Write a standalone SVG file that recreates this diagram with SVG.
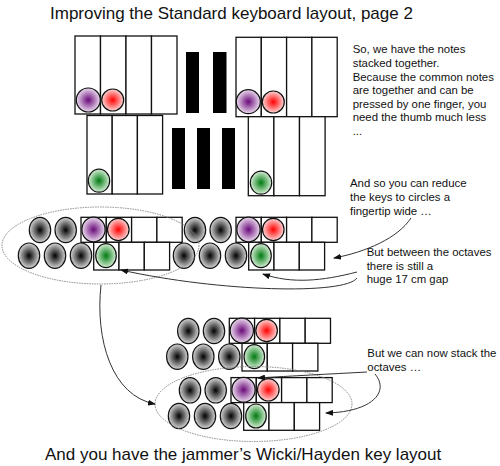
<svg xmlns="http://www.w3.org/2000/svg" width="500" height="466" viewBox="0 0 500 466">
<style>
text{font-family:"Liberation Sans",Arial,sans-serif;fill:#111}
.t{font-size:11.4px}
.h{font-size:17px}
.k{fill:#fff;stroke:#111;stroke-width:1.3}
.c{stroke:#111;stroke-width:1.2}
.gr{fill:url(#gGray)}
.pu{fill:url(#gPurple)}
.re{fill:url(#gRed)}
.gn{fill:url(#gGreen)}
.bk{fill:#000}
.con{fill:none;stroke:#333;stroke-width:1}
.ell{fill:none;stroke:#888;stroke-width:1;stroke-dasharray:1.5 1}
</style>
<defs>
<radialGradient id="gGray"><stop offset="0" stop-color="#000"/><stop offset="1" stop-color="#d8d8d8"/></radialGradient>
<radialGradient id="gPurple"><stop offset="0" stop-color="#6a0a7a"/><stop offset="1" stop-color="#ecdcef"/></radialGradient>
<radialGradient id="gRed"><stop offset="0" stop-color="#ff0000"/><stop offset="1" stop-color="#ffd6d6"/></radialGradient>
<radialGradient id="gGreen"><stop offset="0" stop-color="#007a10"/><stop offset="1" stop-color="#d6eed6"/></radialGradient>
<marker id="arr" markerUnits="userSpaceOnUse" markerWidth="8" markerHeight="6" refX="7" refY="3" orient="auto"><path d="M0,0 L8,3 L0,6 z" fill="#111"/></marker>
<g id="octave">
<rect class="k" x="81" y="217.3" width="25.3" height="25"/>
<rect class="k" x="106.3" y="217.3" width="25.3" height="25"/>
<rect class="k" x="131.6" y="217.3" width="25.3" height="25"/>
<rect class="k" x="156.9" y="217.3" width="25.3" height="25"/>
<rect class="k" x="93.7" y="242.3" width="25.3" height="27.7"/>
<rect class="k" x="119" y="242.3" width="25.3" height="27.7"/>
<rect class="k" x="144.3" y="242.3" width="25.3" height="27.7"/>
<ellipse class="c gr" cx="40" cy="230" rx="10.7" ry="12.7"/>
<ellipse class="c gr" cx="65.7" cy="230" rx="10.7" ry="12.7"/>
<ellipse class="c pu" cx="93.5" cy="229.5" rx="11.6" ry="12.4"/>
<ellipse class="c re" cx="118.3" cy="229.5" rx="10.8" ry="11.2"/>
<ellipse class="c gr" cx="29" cy="255.7" rx="10.7" ry="12.7"/>
<ellipse class="c gr" cx="55" cy="255.7" rx="10.7" ry="12.7"/>
<ellipse class="c gr" cx="81" cy="255.7" rx="10.7" ry="12.7"/>
<ellipse class="c gn" cx="106" cy="255.7" rx="10.3" ry="12"/>
</g>
</defs>
<rect width="500" height="466" fill="#fff"/>

<g id="title"><text class="h" x="50" y="18.5">Improving the Standard keyboard layout, page 2</text></g>

<g id="upper-left-keys">
<rect class="k" x="75" y="36" width="25.5" height="78"/>
<rect class="k" x="100.5" y="36" width="25.5" height="78"/>
<rect class="k" x="126" y="36" width="25.5" height="78"/>
<rect class="k" x="151.5" y="36" width="25.5" height="78"/>
<circle class="c pu" cx="88.3" cy="100" r="12"/>
<circle class="c re" cx="112.7" cy="100" r="11"/>
</g>
<g id="lower-left-keys">
<rect class="k" x="87" y="115.5" width="25.2" height="78.5"/>
<rect class="k" x="112.2" y="115.5" width="25.2" height="78.5"/>
<rect class="k" x="137.4" y="115.5" width="25.2" height="78.5"/>
<ellipse class="c gn" cx="99" cy="180.7" rx="10.7" ry="11.5"/>
</g>
<g id="black-keys">
<rect class="bk" x="186" y="52" width="13" height="61"/>
<rect class="bk" x="213" y="52" width="13.5" height="61"/>
<rect class="bk" x="172" y="128" width="13" height="61"/>
<rect class="bk" x="197" y="128" width="13" height="61"/>
<rect class="bk" x="222" y="128" width="13" height="61"/>
</g>
<g id="upper-right-keys">
<rect class="k" x="236" y="37.3" width="25.3" height="79.4"/>
<rect class="k" x="261.3" y="37.3" width="25.3" height="79.4"/>
<rect class="k" x="286.6" y="37.3" width="25.3" height="79.4"/>
<rect class="k" x="311.9" y="37.3" width="25.3" height="79.4"/>
<circle class="c pu" cx="248.3" cy="101.7" r="12"/>
<circle class="c re" cx="273.3" cy="102" r="11"/>
</g>
<g id="lower-right-keys">
<rect class="k" x="248.3" y="116.7" width="25.6" height="79"/>
<rect class="k" x="273.9" y="116.7" width="25.6" height="79"/>
<rect class="k" x="299.5" y="116.7" width="25.6" height="79"/>
<ellipse class="c gn" cx="261" cy="182.7" rx="10.7" ry="11.5"/>
</g>

<g id="note-stacked">
<text class="t" x="352.7" y="53.3">So, we have the notes</text>
<text class="t" x="352.7" y="66.9">stacked together.</text>
<text class="t" x="352.7" y="80.5">Because the common notes</text>
<text class="t" x="352.7" y="94.1">are together and can be</text>
<text class="t" x="352.7" y="107.7">pressed by one finger, you</text>
<text class="t" x="352.7" y="121.3">need the thumb much less</text>
<text class="t" x="352.7" y="134.9">...</text>
</g>
<g id="note-circles">
<text class="t" x="350" y="187">And so you can reduce</text>
<text class="t" x="350" y="201">the keys to circles a</text>
<text class="t" x="350" y="215">fingertip wide …</text>
</g>
<g id="note-gap">
<text class="t" x="366.7" y="255.7">But between the octaves</text>
<text class="t" x="366.7" y="269.5">there is still a</text>
<text class="t" x="366.7" y="283.3">huge 17 cm gap</text>
</g>
<g id="note-stack">
<text class="t" x="367.3" y="356.7">But we can now stack the</text>
<text class="t" x="367.3" y="370.7">octaves …</text>
</g>

<g id="octave-1"><use href="#octave"/></g>
<g id="octave-2"><use href="#octave" transform="translate(155,0)"/></g>
<g id="octave-3"><use href="#octave" transform="translate(148.3,101)"/></g>
<g id="octave-4"><use href="#octave" transform="translate(150,160.3)"/></g>

<g id="group-ellipses">
<ellipse class="ell" cx="100.5" cy="245.5" rx="98.5" ry="38.5"/>
<ellipse class="ell" cx="253.5" cy="404" rx="98.5" ry="37.5"/>
</g>

<g id="connectors">
<path class="con" d="M411,218 C398,238 366,252 334,258" marker-end="url(#arr)"/>
<path class="con" d="M357,272 C322,281 292,284 263,274" marker-end="url(#arr)"/>
<path class="con" d="M357,278 C345,295 220,292 121,270" marker-end="url(#arr)"/>
<path class="con" d="M101,285 C95,340 112,396 155,404" marker-end="url(#arr)"/>
<path class="con" d="M367,372 C330,374 290,376 258,378" marker-end="url(#arr)"/>
<path class="con" d="M375,374 C390,392 372,412 326,413" marker-end="url(#arr)"/>
</g>

<g id="footer"><text class="h" x="45" y="460">And you have the jammer’s Wicki/Hayden key layout</text></g>
</svg>
